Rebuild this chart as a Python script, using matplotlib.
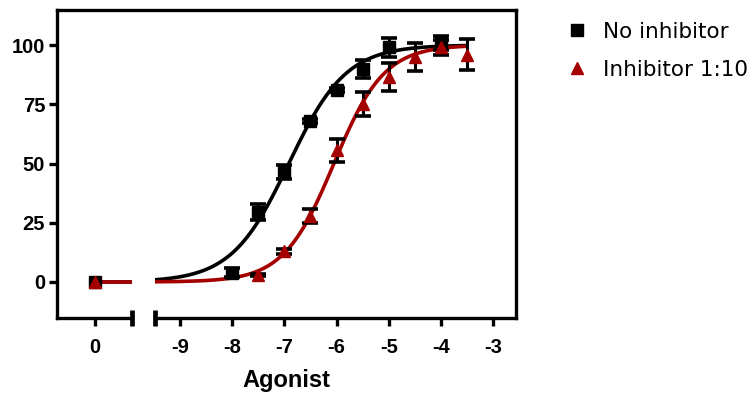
import matplotlib
matplotlib.use("Agg")
import matplotlib.pyplot as plt
import numpy as np
from matplotlib.lines import Line2D

# data: log[agonist], response (% of max), SEM
x_ctrl = [-8, -7.5, -7, -6.5, -6, -5.5, -5, -4]
y_ctrl = [4, 29.5, 46.5, 68, 81, 90, 99, 101]
e_ctrl = [2, 3.5, 3, 1, 1, 3.8, 4, 3]
y_ctrl_zero = 0

x_inh = [-7.5, -7, -6.5, -6, -5.5, -5, -4.5, -4, -3.5]
y_inh = [3, 13, 28, 55.5, 75, 86.5, 95, 99, 96]
e_inh = [0.5, 1, 3, 5, 5, 6, 6, 3, 6.5]
y_inh_zero = 0

# fitted sigmoid parameters (bottom, top, logEC50, hill)
fit_ctrl = (0, 100, -6.915, 0.79)
fit_inh = (0, 100, -6.05, 0.9)

black = "black"
red = "#a50000"

plt.rcParams["font.family"] = ["Liberation Sans", "DejaVu Sans"]
plt.rcParams["font.weight"] = "bold"
plt.rcParams["axes.unicode_minus"] = False


def sigmoid(x, p):
    bottom, top, ec50, hill = p
    return bottom + (top - bottom) / (1 + 10 ** ((ec50 - x) * hill))


fig = plt.figure(figsize=(7.55, 3.95), dpi=100)
W, H = 755, 395
top_px, bot_px = 10, 318
ax0 = fig.add_axes([57 / W, 1 - bot_px / H, 75 / W, (bot_px - top_px) / H])
ax1 = fig.add_axes([155 / W, 1 - bot_px / H, 361 / W, (bot_px - top_px) / H])

lw = 2.4
for ax in (ax0, ax1):
    ax.set_ylim(-15.2, 114.8)
    for s in ax.spines.values():
        s.set_linewidth(lw)
    ax.spines["top"].set_visible(False)
    ax.tick_params(width=lw, length=5.5, labelsize=14.5)
    ax.tick_params(axis="x", pad=9)
    ax.tick_params(axis="y", pad=3)

ax0.set_xlim(-0.72, 0.72)
ax1.set_xlim(-9.48, -2.56)
ax0.spines["right"].set_visible(False)
ax1.spines["left"].set_visible(False)
ax1.tick_params(axis="y", left=False, labelleft=False)
ax0.set_xticks([0])
ax1.set_xticks([-9, -8, -7, -6, -5, -4, -3])
ax0.set_yticks([0, 25, 50, 75, 100])

# left segment (no agonist)
ax0.plot([0, 0.72], [sigmoid(-12, fit_ctrl)] * 2, color=black, lw=2.6)
ax0.plot([0, 0.72], [sigmoid(-12, fit_inh)] * 2, color=red, lw=2.6)
ax0.plot([0], [y_ctrl_zero], "s", color=black, ms=9)
ax0.plot([0], [y_inh_zero], "^", color=red, ms=9)

# fitted curves
xs = np.linspace(-9.48, -3.5, 300)
ax1.plot(xs, sigmoid(xs, fit_ctrl), color=black, lw=2.6)
ax1.plot(xs, sigmoid(xs, fit_inh), color=red, lw=2.6)

# points with error bars
ax1.errorbar(x_ctrl, y_ctrl, yerr=e_ctrl, fmt="s", color=black, ms=9,
             ecolor=black, elinewidth=2.2, capsize=5.5, capthick=2.6)
ax1.errorbar(x_inh, y_inh, yerr=e_inh, fmt="^", color=red, ms=9,
             ecolor=black, elinewidth=2.2, capsize=5.5, capthick=2.6)

# axis break marks
ax0.plot([1], [0], transform=ax0.transAxes, marker="|", ms=11, mew=3.4,
         color=black, clip_on=False)
ax1.plot([0], [0], transform=ax1.transAxes, marker="|", ms=11, mew=3.4,
         color=black, clip_on=False)
# one continuous top border over both panels
fig.add_artist(Line2D([ax0.get_position().x0, ax1.get_position().x1],
                      [ax1.get_position().y1] * 2, color=black, lw=lw,
                      solid_capstyle="projecting", transform=fig.transFigure))

fig.text(286.5 / W, 1 - 380 / H, "Agonist", ha="center", va="center",
         fontsize=17, fontweight="bold")

handles = [Line2D([], [], ls="none", marker="s", color=black, ms=8),
           Line2D([], [], ls="none", marker="^", color=red, ms=8)]
fig.legend(handles, ["No inhibitor", "Inhibitor 1:10"], loc="upper left",
           bbox_to_anchor=(558 / W, 1 - 13 / H), frameon=False,
           prop={"family": "DejaVu Sans", "weight": "normal", "size": 15.5},
           handlelength=1.0, handletextpad=0.7, labelspacing=0.85,
           borderaxespad=0)

fig.savefig("out.png", dpi=100)
